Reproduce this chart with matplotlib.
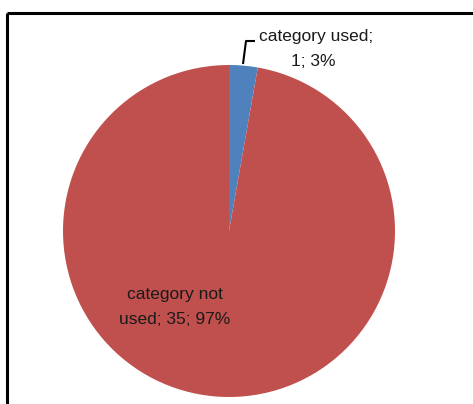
import matplotlib
matplotlib.use("Agg")
import matplotlib.pyplot as plt

categories = ["category used", "category not used"]
counts = [1, 35]
percents = ["3%", "97%"]
colors = ["#4F81BD", "#C0504D"]

W, H = 473, 404
fig = plt.figure(figsize=(W / 100, H / 100), dpi=100)
ax = fig.add_axes([0, 0, 1, 1])

cx, cy, r = 229, H - 231, 166
ax.pie(counts, colors=colors, startangle=90, counterclock=False,
       center=(cx, cy), radius=r, frame=True,
       wedgeprops=dict(linewidth=0))
ax.set_xlim(0, W)
ax.set_ylim(0, H)
ax.axis("off")

font = dict(family=["Liberation Sans", "DejaVu Sans"], fontsize=12.5, color="#1a1a1a")

# label for small slice
ax.text(316, H - 37, f"{categories[0]};", ha="center", va="center", **font)
ax.text(313, H - 61, f"{counts[0]}; {percents[0]}", ha="center", va="center", **font)
ax.plot([243, 246, 255], [H - 64, H - 41, H - 41], color="black", lw=1.5,
        solid_capstyle="butt")

# label for large slice
ax.text(175, H - 295, "category not", ha="center", va="center", **font)
ax.text(175, H - 319, f"used; {counts[1]}; {percents[1]}", ha="center", va="center", **font)

# frame lines
ax.plot([7, W], [H - 13, H - 13], color="black", lw=2.2, solid_capstyle="butt")
ax.plot([7, 7], [H - 13, 0], color="black", lw=2.2, solid_capstyle="butt")

fig.savefig("out.png", dpi=100)
